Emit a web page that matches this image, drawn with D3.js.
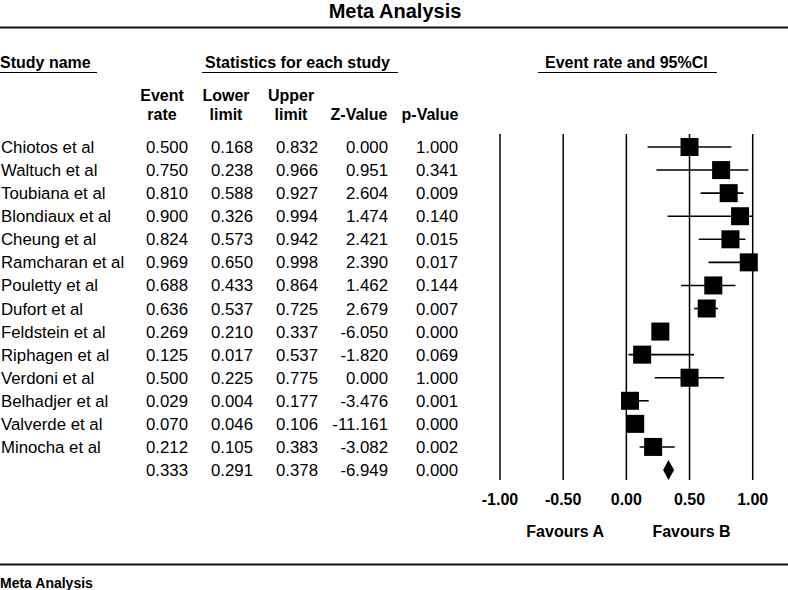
<!DOCTYPE html>
<html>
<head>
<meta charset="utf-8">
<script src="https://cdn.jsdelivr.net/npm/d3@7"></script>
<style>
  html, body { margin: 0; padding: 0; background: #fff; }
  svg text { font-family: "Liberation Sans", Arial, sans-serif; fill: #000; }
</style>
</head>
<body>
<svg id="chart" width="788" height="590"></svg>
<script>
// ---- data ----
const studies = ["Chiotos et al", "Waltuch et al", "Toubiana et al", "Blondiaux et al", "Cheung et al",
  "Ramcharan et al", "Pouletty et al", "Dufort et al", "Feldstein et al", "Riphagen et al",
  "Verdoni et al", "Belhadjer et al", "Valverde et al", "Minocha et al"];
const eventRate  = [0.500, 0.750, 0.810, 0.900, 0.824, 0.969, 0.688, 0.636, 0.269, 0.125, 0.500, 0.029, 0.070, 0.212];
const lowerLimit = [0.168, 0.238, 0.588, 0.326, 0.573, 0.650, 0.433, 0.537, 0.210, 0.017, 0.225, 0.004, 0.046, 0.105];
const upperLimit = [0.832, 0.966, 0.927, 0.994, 0.942, 0.998, 0.864, 0.725, 0.337, 0.537, 0.775, 0.177, 0.106, 0.383];
const zValue     = [0.000, 0.951, 2.604, 1.474, 2.421, 2.390, 1.462, 2.679, -6.050, -1.820, 0.000, -3.476, -11.161, -3.082];
const pValue     = [1.000, 0.341, 0.009, 0.140, 0.015, 0.017, 0.144, 0.007, 0.000, 0.069, 1.000, 0.001, 0.000, 0.002];
const summary    = { eventRate: 0.333, lower: 0.291, upper: 0.378, z: -6.949, p: 0.000 };
const axisTicks  = [-1.00, -0.50, 0.00, 0.50, 1.00];
const favourLabels = ["Favours A", "Favours B"];
const favourAt     = [-0.5, 0.5];
const columnHeaders = [["Event", "rate"], ["Lower", "limit"], ["Upper", "limit"], ["Z-Value"], ["p-Value"]];

// ---- layout ----
const W = 788, H = 590;
const svg = d3.select("#chart");
const f3 = d3.format(".3f");
const f2 = d3.format(".2f");
const fmt3 = v => f3(v).replace("\u2212", "-");
const fmt2 = v => f2(v).replace("\u2212", "-");

const x = d3.scaleLinear().domain([-1, 1]).range([500, 752.7]);
const nRows = studies.length + 1;
const y = d3.scaleLinear().domain([0, nRows - 1]).range([147, 470]);

// title
svg.append("text").attr("x", 395).attr("y", 17.5).attr("text-anchor", "middle")
  .attr("font-size", 20).attr("font-weight", "bold").text("Meta Analysis");
svg.append("line").attr("x1", 0).attr("x2", W).attr("y1", 27.5).attr("y2", 27.5)
  .attr("stroke", "#111").attr("stroke-width", 2);

// section headers
const sections = [
  { t: "Study name", x: 0, anchor: "start", ul: [0, 97] },
  { t: "Statistics for each study", x: 205, anchor: "start", ul: [202, 398] },
  { t: "Event rate and 95%CI", x: 545, anchor: "start", ul: [538, 717] }
];
sections.forEach(s => {
  svg.append("text").attr("x", s.x).attr("y", 68).attr("text-anchor", s.anchor)
    .attr("font-size", 16).attr("font-weight", "bold").text(s.t);
  svg.append("line").attr("x1", s.ul[0]).attr("x2", s.ul[1]).attr("y1", 72.5).attr("y2", 72.5)
    .attr("stroke", "#000").attr("stroke-width", 1);
});

// column headers
const colRight = [188, 253, 318, 388, 458];
const headCenter = [162, 226, 291, 359, 430];
columnHeaders.forEach((lines, i) => {
  const base = lines.length === 2 ? [101, 120] : [120];
  lines.forEach((ln, k) => {
    svg.append("text").attr("x", headCenter[i]).attr("y", base[k]).attr("text-anchor", "middle")
      .attr("font-size", 16).attr("font-weight", "bold").text(ln);
  });
});

// table rows
const rows = studies.map((s, i) => ({ name: s, vals: [eventRate[i], lowerLimit[i], upperLimit[i], zValue[i], pValue[i]] }));
rows.push({ name: "", vals: [summary.eventRate, summary.lower, summary.upper, summary.z, summary.p] });

const rowG = svg.append("g").selectAll("g").data(rows).join("g")
  .attr("transform", (d, i) => `translate(0,${y(i) + 6})`);
rowG.append("text").attr("x", 1).attr("font-size", 16.8).text(d => d.name);
rowG.each(function(d) {
  d3.select(this).selectAll("text.v").data(d.vals).join("text").attr("class", "v")
    .attr("x", (v, j) => colRight[j]).attr("text-anchor", "end").attr("font-size", 16.8)
    .text(v => fmt3(v));
});

// forest plot grid lines
svg.append("g").selectAll("line").data(axisTicks).join("line")
  .attr("x1", d => x(d)).attr("x2", d => x(d)).attr("y1", 134).attr("y2", 480)
  .attr("stroke", "#000").attr("stroke-width", 1.5);

// CI lines and squares
const studyIdx = d3.range(studies.length);
svg.append("g").selectAll("line").data(studyIdx).join("line")
  .attr("x1", i => x(lowerLimit[i])).attr("x2", i => x(upperLimit[i]))
  .attr("y1", i => y(i)).attr("y2", i => y(i))
  .attr("stroke", "#000").attr("stroke-width", 1.6);
const sq = 18;
svg.append("g").selectAll("rect").data(studyIdx).join("rect")
  .attr("x", i => x(eventRate[i]) - sq / 2).attr("y", i => y(i) - sq / 2)
  .attr("width", sq).attr("height", sq).attr("fill", "#000");

// summary diamond
const sy = y(studies.length);
svg.append("path")
  .attr("d", `M${x(summary.lower)},${sy} L${x(summary.eventRate)},${sy - 10} L${x(summary.upper)},${sy} L${x(summary.eventRate)},${sy + 10} Z`)
  .attr("fill", "#000");

// axis tick labels
svg.append("g").selectAll("text").data(axisTicks).join("text")
  .attr("x", d => x(d)).attr("y", 505).attr("text-anchor", "middle")
  .attr("font-size", 16).attr("font-weight", "bold").text(d => fmt2(d));

// favours labels
svg.append("g").selectAll("text").data(favourLabels).join("text")
  .attr("x", (d, i) => x(favourAt[i]) + 2).attr("y", 537).attr("text-anchor", "middle")
  .attr("font-size", 16).attr("font-weight", "bold").text(d => d);

// bottom rule and footer
svg.append("line").attr("x1", 0).attr("x2", W).attr("y1", 564.5).attr("y2", 564.5)
  .attr("stroke", "#111").attr("stroke-width", 2);
svg.append("text").attr("x", 0).attr("y", 588).attr("font-size", 14).attr("font-weight", "bold")
  .text("Meta Analysis");
</script>
</body>
</html>
